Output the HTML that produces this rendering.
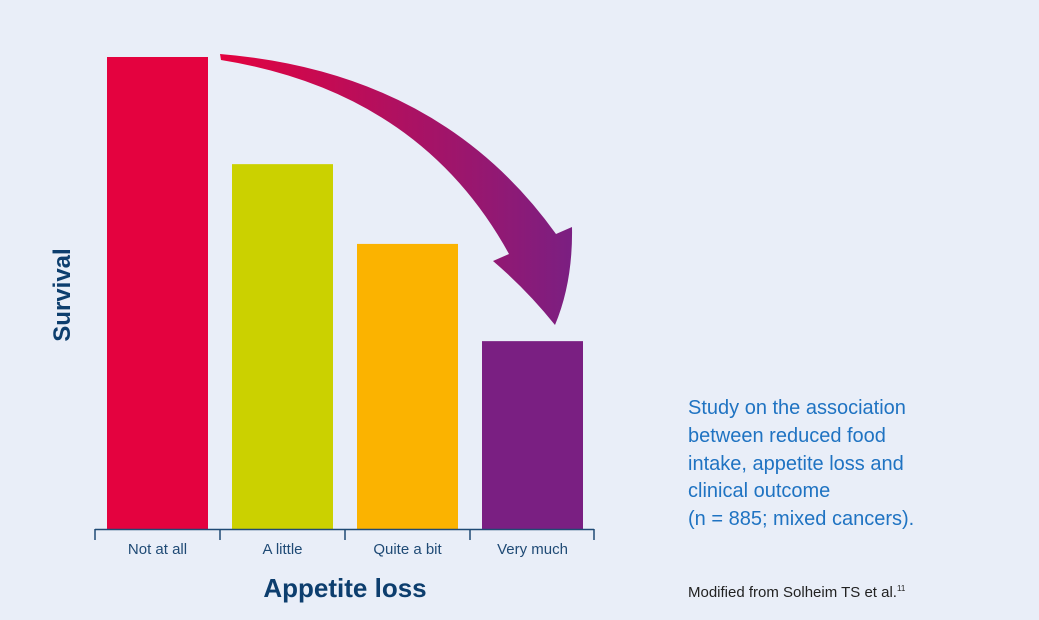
<!DOCTYPE html>
<html><head><meta charset="utf-8"><style>
body{margin:0;background:#e9eef8;}
svg{display:block;font-family:"Liberation Sans",sans-serif;}
</style></head><body>
<svg width="1039" height="620" viewBox="0 0 1039 620">
<defs><linearGradient id="ag" x1="220" y1="0" x2="575" y2="0" gradientUnits="userSpaceOnUse">
<stop offset="0" stop-color="#e4023f"/><stop offset="1" stop-color="#7a1f82"/></linearGradient></defs>
<rect width="1039" height="620" fill="#e9eef8"/>
<g id="bars"></g>
<line x1="95" y1="529.5" x2="594" y2="529.5" stroke="#1f4a75" stroke-width="1.5"/>
<g id="ticks"></g>
<path d="M220,54 Q440,72 556,234 L572,227 Q573,282 555,325 Q527,290 493,261 L509,254 Q420,92 221,60 Z" fill="url(#ag)"/>
<text x="70" y="295" transform="rotate(-90 70 295)" text-anchor="middle" font-size="24" font-weight="bold" fill="#0d3e6e">Survival</text>
<text x="345" y="597" text-anchor="middle" font-size="26" font-weight="bold" fill="#0d3e6e">Appetite loss</text>
<g font-size="20" fill="#1f73c2">
<text x="688" y="414">Study on the association</text>
<text x="688" y="442">between reduced food</text>
<text x="688" y="470">intake, appetite loss and</text>
<text x="688" y="497">clinical outcome</text>
<text x="688" y="525">(n = 885; mixed cancers).</text>
</g>
<text x="688" y="597" font-size="15" fill="#222">Modified from Solheim TS et al.<tspan font-size="8" dy="-6">11</tspan></text>
</svg>
<script>
const categories=["Not at all","A little","Quite a bit","Very much"];
const values=[100,77.3,60.4,39.8];
const colors=["#e4023f","#cbd100","#fbb300","#7a1f82"];
const x0=95,band=125,bottom=529,plotH=472,maxV=100,barW=101;
const y=v=>bottom-v/maxV*plotH;
const ns="http://www.w3.org/2000/svg";
const bars=document.getElementById("bars"),ticks=document.getElementById("ticks");
categories.forEach((c,i)=>{
 const r=document.createElementNS(ns,"rect");
 r.setAttribute("x",x0+i*band+12);r.setAttribute("y",y(values[i]));
 r.setAttribute("width",barW);r.setAttribute("height",bottom-y(values[i]));
 r.setAttribute("fill",colors[i]);
 
 
 bars.appendChild(r);
 const t=document.createElementNS(ns,"text");
 t.setAttribute("x",x0+i*band+band/2);t.setAttribute("y",554);
 t.setAttribute("text-anchor","middle");t.setAttribute("font-size","15");t.setAttribute("fill","#1f4a75");
 t.textContent=c;
 
 
 ticks.appendChild(t);
});
for(let i=0;i<=categories.length;i++){
 const l=document.createElementNS(ns,"line");
 const xx=x0+i*band-(i==categories.length?1:0);
 l.setAttribute("x1",xx);l.setAttribute("x2",xx);l.setAttribute("y1",529);l.setAttribute("y2",540);
 l.setAttribute("stroke","#1f4a75");l.setAttribute("stroke-width","1.5");
 
 
 ticks.appendChild(l);
}
</script>
</body></html>
